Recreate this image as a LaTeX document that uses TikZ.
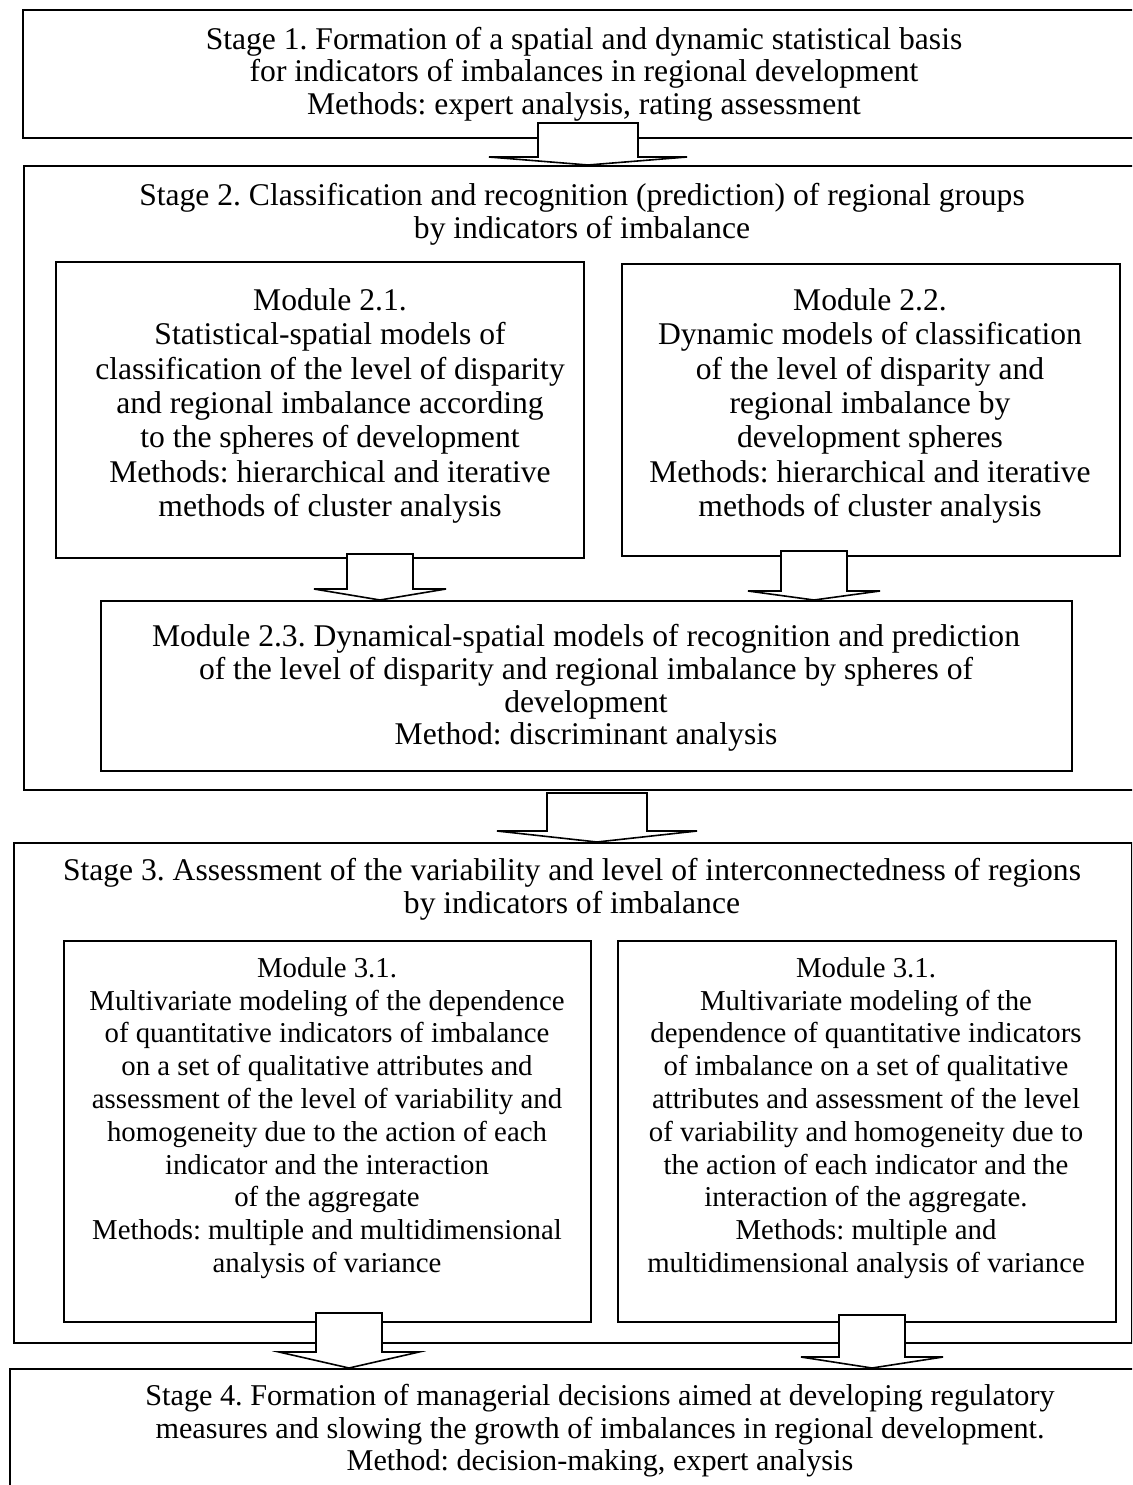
\documentclass[tikz,border=0pt]{standalone}
\usepackage{fontspec}
\setmainfont{Liberation Serif}
\frenchspacing
\newcommand\fsbig{\fontsize{31.6}{32.6}\selectfont}
\newcommand\fsfour{\fontsize{30.2}{32.4}\selectfont}
\newcommand\fsmid{\fontsize{31.6}{34.4}\selectfont}
\newcommand\fssmall{\fontsize{28.8}{32.8}\selectfont}
\newcommand\blockarrow[6]{% #1 x, #2 top y, #3 bar y, #4 target node, #5 half shaft, #6 half wing
  \coordinate (ba) at (#1,0);
  \draw[barrowstyle] (#1-#5,#2) -- (#1-#5,#3) -- (#1-#6,#3) -- (ba |- #4.north) -- (#1+#6,#3) -- (#1+#5,#3) -- (#1+#5,#2) -- cycle;}
\begin{document}
\begin{tikzpicture}[x=1pt,y=-1pt,
  box/.style={draw=black, line width=1.6pt, inner sep=0pt, anchor=north west},
  txt/.style={align=center, font=\fsbig, inner sep=0pt},
  txtfour/.style={align=center, font=\fsfour, inner sep=0pt},
  txtmid/.style={align=center, font=\fsmid, inner sep=0pt},
  txtsmall/.style={align=center, font=\fssmall, inner sep=0pt},
  barrowstyle/.style={draw=black, line width=1.6pt, fill=white, line join=miter}]
\fill[white] (0,0) rectangle (1132,1485);
\useasboundingbox (0,0) rectangle (1132,1485);
\clip (0,0) rectangle (1132,1485);

% Stage 1
\node[box, minimum width=1125, minimum height=128] (s1) at (22,9) {};
\node[txt] (s1t) at (584,74)
  {Stage 1. Formation of a spatial and dynamic statistical basis\\
   for indicators of imbalances in regional development\\
   Methods: expert analysis, rating assessment};

% Stage 2
\node[box, minimum width=1124, minimum height=624] (s2) at (23,165) {};
\node[txt] (s2t) at (582,214)
  {Stage 2. Classification and recognition (prediction) of regional groups\\
   by indicators of imbalance};
\node[box, minimum width=528, minimum height=296] (m21) at (55,261) {};
\node[txtmid] (m21t) at (330,406)
  {Module 2.1.\\
   Statistical-spatial models of\\
   classification of the level of disparity\\
   and regional imbalance according\\
   to the spheres of development\\
   Methods: hierarchical and iterative\\
   methods of cluster analysis};
\node[box, minimum width=498, minimum height=292] (m22) at (621,263) {};
\node[txtmid] (m22t) at (870,406)
  {Module 2.2.\\
   Dynamic models of classification\\
   of the level of disparity and\\
   regional imbalance by\\
   development spheres\\
   Methods: hierarchical and iterative\\
   methods of cluster analysis};
\node[box, minimum width=971, minimum height=170] (m23) at (100,600) {};
\node[txt] (m23t) at (586,688)
  {Module 2.3. Dynamical-spatial models of recognition and prediction\\
   of the level of disparity and regional imbalance by spheres of\\
   development\\
   Method: discriminant analysis};

% Stage 3
\node[box, minimum width=1118, minimum height=500] (s3) at (13,842) {};
\node[txt] (s3t) at (572,889)
  {Stage 3. Assessment of the variability and level of interconnectedness of regions\\
   by indicators of imbalance};
\node[box, minimum width=527, minimum height=381] (m31a) at (63,940) {};
\node[txtsmall] (m31at) at (327,1118)
  {Module 3.1.\\
   Multivariate modeling of the dependence\\
   of quantitative indicators of imbalance\\
   on a set of qualitative attributes and\\
   assessment of the level of variability and\\
   homogeneity due to the action of each\\
   indicator and the interaction\\
   of the aggregate\\
   Methods: multiple and multidimensional\\
   analysis of variance};
\node[box, minimum width=498, minimum height=381] (m31b) at (617,940) {};
\node[txtsmall] (m31bt) at (866,1118)
  {Module 3.1.\\
   Multivariate modeling of the\\
   dependence of quantitative indicators\\
   of imbalance on a set of qualitative\\
   attributes and assessment of the level\\
   of variability and homogeneity due to\\
   the action of each indicator and the\\
   interaction of the aggregate.\\
   Methods: multiple and\\
   multidimensional analysis of variance};

% Stage 4
\node[box, minimum width=1200, minimum height=140] (s4) at (9,1368) {};
\node[txtfour] (s4t) at (600,1431)
  {Stage 4. Formation of managerial decisions aimed at developing regulatory\\
   measures and slowing the growth of imbalances in regional development.\\
   Method: decision-making, expert analysis};

% Block arrows
\blockarrow{588}{123}{157}{s2}{50}{99}
\blockarrow{597}{793}{831}{s3}{50}{100}
\blockarrow{380}{554}{589}{m23}{33}{66}
\blockarrow{814}{551}{591}{m23}{33}{66}
\blockarrow{349}{1313}{1352}{s4}{33}{70}
\blockarrow{872}{1315}{1357}{s4}{33}{71}
\end{tikzpicture}
\end{document}
